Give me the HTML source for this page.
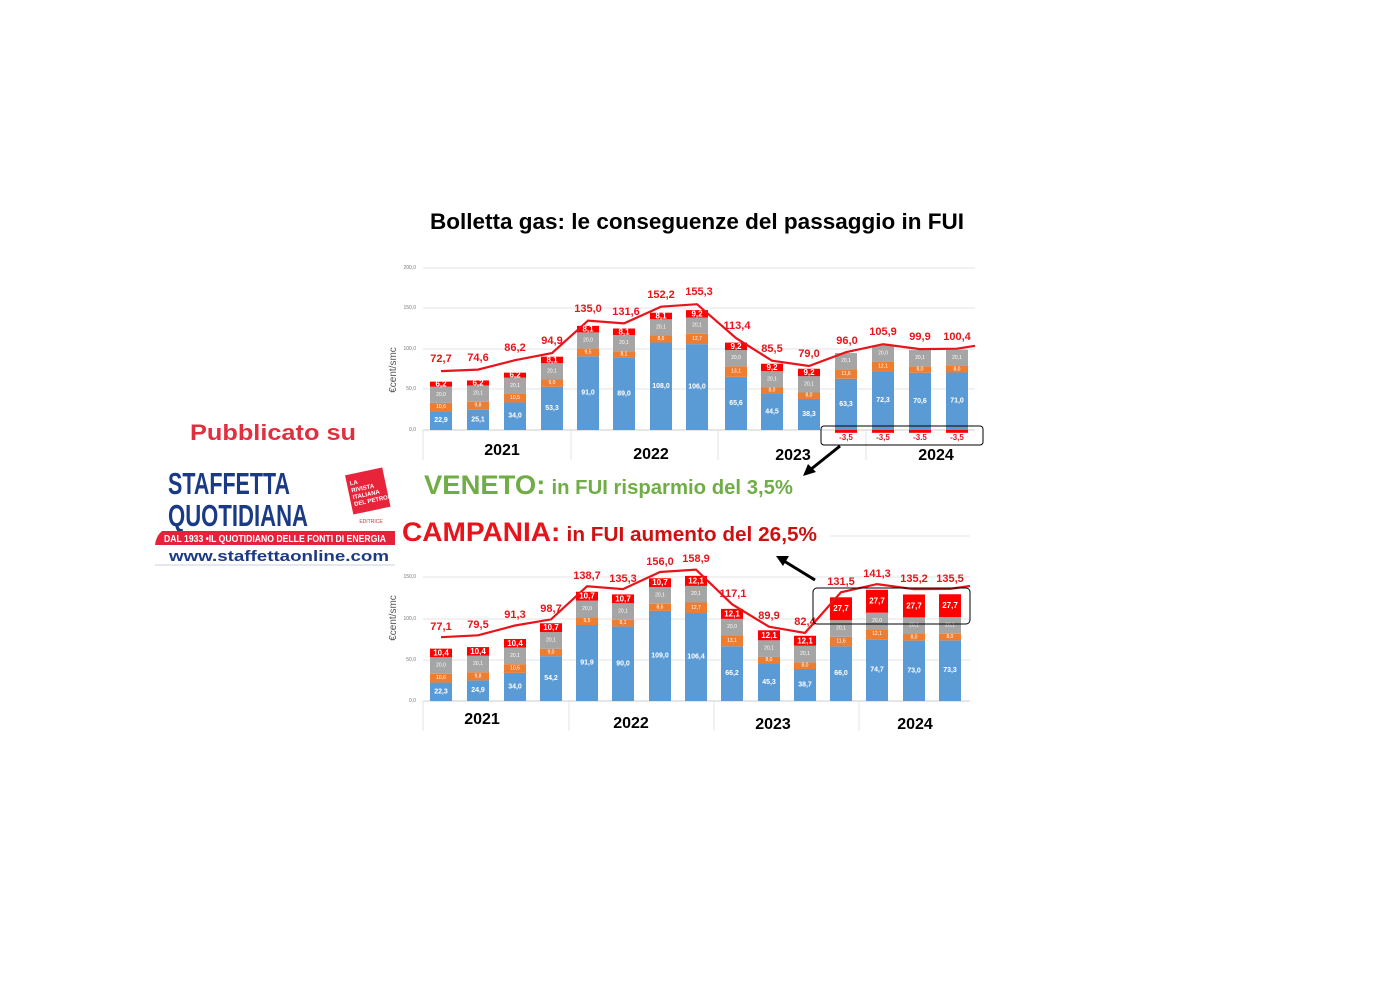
<!DOCTYPE html>
<html><head><meta charset="utf-8"><style>
html,body{margin:0;padding:0;background:#fff;width:1400px;height:1002px;overflow:hidden}
svg{display:block}
text{font-family:"Liberation Sans",sans-serif}
.t{font-size:7px;fill:#fff;font-weight:bold;text-anchor:middle;dominant-baseline:central}
.s{font-size:5px;fill:#fff;text-anchor:middle;dominant-baseline:central}
.r{font-size:8px;fill:#fff;font-weight:bold;text-anchor:middle;dominant-baseline:central}
.tot{font-size:11px;fill:#e8141b;font-weight:bold;text-anchor:middle}
.ax{font-size:5px;fill:#777;text-anchor:end;dominant-baseline:central}
.yr{font-size:16px;font-weight:bold;fill:#000;text-anchor:middle}
</style></head><body>
<svg width="1400" height="1002" viewBox="0 0 1400 1002">
<text x="697" y="229" font-size="22" font-weight="bold" text-anchor="middle" textLength="534" lengthAdjust="spacingAndGlyphs">Bolletta gas: le conseguenze del passaggio in FUI</text>

<!-- TOP CHART -->
<g stroke="#e3e3e3" stroke-width="1">
<line x1="423" y1="268" x2="975" y2="268"/><line x1="423" y1="308" x2="975" y2="308"/><line x1="423" y1="349" x2="975" y2="349"/><line x1="423" y1="389" x2="975" y2="389"/>
<line x1="423" y1="430" x2="975" y2="430" stroke="#ccc"/>
<line x1="571" y1="430" x2="571" y2="460"/><line x1="718" y1="430" x2="718" y2="460"/><line x1="866" y1="430" x2="866" y2="460"/><line x1="423" y1="430" x2="423" y2="460"/>
</g>
<text class="ax" x="416" y="268">200,0</text><text class="ax" x="416" y="308">150,0</text><text class="ax" x="416" y="349">100,0</text><text class="ax" x="416" y="389">50,0</text><text class="ax" x="416" y="430">0,0</text>
<text x="396" y="370" font-size="10" fill="#555" text-anchor="middle" transform="rotate(-90 396 370)">€cent/smc</text>
<g transform="translate(0,430) scale(1,-0.81)">
<g fill="#5b9bd5">
<rect x="430" y="0" width="22" height="22.9"/><rect x="467" y="0" width="22" height="25.1"/><rect x="504" y="0" width="22" height="34"/><rect x="541" y="0" width="22" height="53.3"/>
<rect x="577" y="0" width="22" height="91"/><rect x="613" y="0" width="22" height="89"/><rect x="650" y="0" width="22" height="108"/><rect x="686" y="0" width="22" height="106"/>
<rect x="725" y="0" width="22" height="65.6"/><rect x="761" y="0" width="22" height="44.5"/><rect x="798" y="0" width="22" height="38.3"/>
<rect x="835" y="0" width="22" height="63.3"/><rect x="872" y="0" width="22" height="72.3"/><rect x="909" y="0" width="22" height="70.6"/><rect x="946" y="0" width="22" height="71"/>
</g>
<g fill="#ed7d31">
<rect x="430" y="22.9" width="22" height="10.6"/><rect x="467" y="25.1" width="22" height="9.8"/><rect x="504" y="34" width="22" height="10.5"/><rect x="541" y="53.3" width="22" height="9"/>
<rect x="577" y="91" width="22" height="9.5"/><rect x="613" y="89" width="22" height="8.1"/><rect x="650" y="108" width="22" height="8.6"/><rect x="686" y="106" width="22" height="12.7"/>
<rect x="725" y="65.6" width="22" height="13.1"/><rect x="761" y="44.5" width="22" height="8"/><rect x="798" y="38.3" width="22" height="8"/>
<rect x="835" y="63.3" width="22" height="11.6"/><rect x="872" y="72.3" width="22" height="12.1"/><rect x="909" y="70.6" width="22" height="8"/><rect x="946" y="71" width="22" height="8"/>
</g>
<g fill="#a5a5a5">
<rect x="430" y="33.5" width="22" height="20"/><rect x="467" y="34.9" width="22" height="20.1"/><rect x="504" y="44.5" width="22" height="20.1"/><rect x="541" y="62.3" width="22" height="20.1"/>
<rect x="577" y="100.5" width="22" height="20"/><rect x="613" y="97.1" width="22" height="20.1"/><rect x="650" y="116.6" width="22" height="20.1"/><rect x="686" y="118.7" width="22" height="20.1"/>
<rect x="725" y="78.7" width="22" height="20"/><rect x="761" y="52.5" width="22" height="20.1"/><rect x="798" y="46.3" width="22" height="20.1"/>
<rect x="835" y="74.9" width="22" height="20.1"/><rect x="872" y="84.4" width="22" height="20"/><rect x="909" y="78.6" width="22" height="20.1"/><rect x="946" y="79" width="22" height="20.1"/>
</g>
<g fill="#f00">
<rect x="430" y="53.5" width="22" height="6.2"/><rect x="467" y="55" width="22" height="6.2"/><rect x="504" y="64.6" width="22" height="6.2"/><rect x="541" y="82.4" width="22" height="8.1"/>
<rect x="577" y="120.5" width="22" height="8.1"/><rect x="613" y="117.2" width="22" height="8.1"/><rect x="650" y="136.7" width="22" height="8.1"/><rect x="686" y="138.8" width="22" height="9.2"/>
<rect x="725" y="98.7" width="22" height="9.2"/><rect x="761" y="72.6" width="22" height="9.2"/><rect x="798" y="66.4" width="22" height="9.2"/>
<rect x="835" y="-3.5" width="22" height="3.5"/><rect x="872" y="-3.5" width="22" height="3.5"/><rect x="909" y="-3.5" width="22" height="3.5"/><rect x="946" y="-3.5" width="22" height="3.5"/>
</g>
</g>
<polyline fill="none" stroke="#e8141b" stroke-width="2.2" points="441,371.1 478,369.6 515,360.2 552,353.1 588,320.6 624,323.4 661,306.7 697,304.2 736,338.1 772,360.7 809,366 846,352.2 883,344.2 920,349.1 957,348.7 975,345.8"/>
<g>
<text class="tot" x="441" y="362">72,7</text><text class="tot" x="478" y="361">74,6</text><text class="tot" x="515" y="351">86,2</text><text class="tot" x="552" y="344">94,9</text>
<text class="tot" x="588" y="312">135,0</text><text class="tot" x="626" y="315">131,6</text><text class="tot" x="661" y="298">152,2</text><text class="tot" x="699" y="295">155,3</text>
<text class="tot" x="737" y="329">113,4</text><text class="tot" x="772" y="352">85,5</text><text class="tot" x="809" y="357">79,0</text>
<text class="tot" x="847" y="344">96,0</text><text class="tot" x="883" y="335">105,9</text><text class="tot" x="920" y="340">99,9</text><text class="tot" x="957" y="340">100,4</text>
</g>
<g>
<text class="t" x="441" y="420.7">22,9</text><text class="s" x="441" y="407.2">10,6</text><text class="s" x="441" y="394.8">20,0</text><text class="r" x="441" y="384.2">6,2</text>
<text class="t" x="478" y="419.8">25,1</text><text class="s" x="478" y="405.7">9,8</text><text class="s" x="478" y="393.6">20,1</text><text class="r" x="478" y="383">6,2</text>
<text class="t" x="515" y="416.2">34,0</text><text class="s" x="515" y="398.2">10,5</text><text class="s" x="515" y="385.8">20,1</text><text class="r" x="515" y="375.2">6,2</text>
<text class="t" x="552" y="408.4">53,3</text><text class="s" x="552" y="383.2">9,0</text><text class="s" x="552" y="371.4">20,1</text><text class="r" x="552" y="360">8,1</text>
<text class="t" x="588" y="393.1">91,0</text><text class="s" x="588" y="352.4">9,5</text><text class="s" x="588" y="340.5">20,0</text><text class="r" x="588" y="329.1">8,1</text>
<text class="t" x="624" y="394">89,0</text><text class="s" x="624" y="354.6">8,1</text><text class="s" x="624" y="343.2">20,1</text><text class="r" x="624" y="331.8">8,1</text>
<text class="t" x="661" y="386.3">108,0</text><text class="s" x="661" y="339">8,6</text><text class="s" x="661" y="327.4">20,1</text><text class="r" x="661" y="316">8,1</text>
<text class="t" x="697" y="387.1">106,0</text><text class="s" x="697" y="339">12,7</text><text class="s" x="697" y="325.7">20,1</text><text class="r" x="697" y="313.9">9,2</text>
<text class="t" x="736" y="403.4">65,6</text><text class="s" x="736" y="371.6">13,1</text><text class="s" x="736" y="358.2">20,0</text><text class="r" x="736" y="346.3">9,2</text>
<text class="t" x="772" y="412">44,5</text><text class="s" x="772" y="390.7">8,0</text><text class="s" x="772" y="379.3">20,1</text><text class="r" x="772" y="367.5">9,2</text>
<text class="t" x="809" y="414.5">38,3</text><text class="s" x="809" y="395.7">8,0</text><text class="s" x="809" y="384.4">20,1</text><text class="r" x="809" y="372.5">9,2</text>
<text class="t" x="846" y="404.4">63,3</text><text class="s" x="846" y="374">11,6</text><text class="s" x="846" y="361.2">20,1</text>
<text class="t" x="883" y="400.7">72,3</text><text class="s" x="883" y="366.5">12,1</text><text class="s" x="883" y="353.5">20,0</text>
<text class="t" x="920" y="401.4">70,6</text><text class="s" x="920" y="369.6">8,0</text><text class="s" x="920" y="358.2">20,1</text>
<text class="t" x="957" y="401.2">71,0</text><text class="s" x="957" y="369.3">8,0</text><text class="s" x="957" y="357.9">20,1</text>
</g>
<g font-size="8" font-weight="bold" fill="#e8141b" text-anchor="middle">
<text x="846" y="440">-3,5</text><text x="883" y="440">-3,5</text><text x="920" y="440">-3.5</text><text x="957" y="440">-3,5</text>
</g>
<text class="yr" x="502" y="455">2021</text><text class="yr" x="651" y="459">2022</text><text class="yr" x="793" y="460">2023</text><text class="yr" x="936" y="460">2024</text>
<rect x="821" y="426" width="162" height="19" rx="3" fill="none" stroke="#000" stroke-width="1"/>
<line x1="840" y1="446" x2="810" y2="470" stroke="#000" stroke-width="3"/>
<polygon points="803,476 808,464 816,472" fill="#000"/>

<text x="424" y="494" font-size="27" fill="#70ad47" font-weight="bold" textLength="369" lengthAdjust="spacingAndGlyphs">VENETO:<tspan font-size="20" dx="6">in FUI risparmio del 3,5%</tspan></text>
<text x="402" y="541" font-size="27" fill="#e8141b" font-weight="bold" textLength="415" lengthAdjust="spacingAndGlyphs">CAMPANIA:<tspan font-size="20" dx="6" fill="#d01010">in FUI aumento del 26,5%</tspan></text>
<line x1="830" y1="536" x2="970" y2="536" stroke="#e6e6e6"/>

<!-- BOTTOM CHART -->
<g stroke="#e3e3e3" stroke-width="1">
<line x1="423" y1="577" x2="970" y2="577"/><line x1="423" y1="619" x2="970" y2="619"/><line x1="423" y1="660" x2="970" y2="660"/>
<line x1="423" y1="701" x2="970" y2="701" stroke="#ccc"/>
<line x1="569" y1="701" x2="569" y2="731"/><line x1="714" y1="701" x2="714" y2="731"/><line x1="859" y1="701" x2="859" y2="731"/><line x1="423" y1="701" x2="423" y2="731"/>
</g>
<text class="ax" x="416" y="577">150,0</text><text class="ax" x="416" y="619">100,0</text><text class="ax" x="416" y="660">50,0</text><text class="ax" x="416" y="701">0,0</text>
<text x="396" y="618" font-size="10" fill="#555" text-anchor="middle" transform="rotate(-90 396 618)">€cent/smc</text>
<g transform="translate(0,701) scale(1,-0.827)">
<g fill="#5b9bd5">
<rect x="430" y="0" width="22" height="22.3"/><rect x="467" y="0" width="22" height="24.9"/><rect x="504" y="0" width="22" height="34"/><rect x="540" y="0" width="22" height="54.2"/>
<rect x="576" y="0" width="22" height="91.9"/><rect x="612" y="0" width="22" height="90"/><rect x="649" y="0" width="22" height="109"/><rect x="685" y="0" width="22" height="106.4"/>
<rect x="721" y="0" width="22" height="66.2"/><rect x="758" y="0" width="22" height="45.3"/><rect x="794" y="0" width="22" height="38.7"/>
<rect x="830" y="0" width="22" height="66"/><rect x="866" y="0" width="22" height="74.7"/><rect x="903" y="0" width="22" height="73"/><rect x="939" y="0" width="22" height="73.3"/>
</g>
<g fill="#ed7d31">
<rect x="430" y="22.3" width="22" height="10.6"/><rect x="467" y="24.9" width="22" height="9.8"/><rect x="504" y="34" width="22" height="10.5"/><rect x="540" y="54.2" width="22" height="9"/>
<rect x="576" y="91.9" width="22" height="9.5"/><rect x="612" y="90" width="22" height="8.1"/><rect x="649" y="109" width="22" height="8.6"/><rect x="685" y="106.4" width="22" height="12.7"/>
<rect x="721" y="66.2" width="22" height="13.1"/><rect x="758" y="45.3" width="22" height="8"/><rect x="794" y="38.7" width="22" height="8"/>
<rect x="830" y="66" width="22" height="11.6"/><rect x="866" y="74.7" width="22" height="12.1"/><rect x="903" y="73" width="22" height="8"/><rect x="939" y="73.3" width="22" height="8"/>
</g>
<g fill="#a5a5a5">
<rect x="430" y="32.9" width="22" height="20"/><rect x="467" y="34.7" width="22" height="20.1"/><rect x="504" y="44.5" width="22" height="20.1"/><rect x="540" y="63.2" width="22" height="20.1"/>
<rect x="576" y="101.4" width="22" height="20"/><rect x="612" y="98.1" width="22" height="20.1"/><rect x="649" y="117.6" width="22" height="20.1"/><rect x="685" y="119.1" width="22" height="20.1"/>
<rect x="721" y="79.3" width="22" height="20"/><rect x="758" y="53.3" width="22" height="20.1"/><rect x="794" y="46.7" width="22" height="20.1"/>
<rect x="830" y="77.6" width="22" height="20.1"/><rect x="866" y="86.8" width="22" height="20"/><rect x="903" y="81" width="22" height="20.1"/><rect x="939" y="81.3" width="22" height="20.1"/>
</g>
<g fill="#f00">
<rect x="430" y="52.9" width="22" height="10.4"/><rect x="467" y="54.8" width="22" height="10.4"/><rect x="504" y="64.6" width="22" height="10.4"/><rect x="540" y="83.3" width="22" height="10.7"/>
<rect x="576" y="121.4" width="22" height="10.7"/><rect x="612" y="118.2" width="22" height="10.7"/><rect x="649" y="137.7" width="22" height="10.7"/><rect x="685" y="139.2" width="22" height="12.1"/>
<rect x="721" y="99.3" width="22" height="12.1"/><rect x="758" y="73.4" width="22" height="12.1"/><rect x="794" y="66.8" width="22" height="12.1"/>
<rect x="830" y="97.7" width="22" height="27.7"/><rect x="866" y="106.8" width="22" height="27.7"/><rect x="903" y="101.1" width="22" height="27.7"/><rect x="939" y="101.4" width="22" height="27.7"/>
</g>
</g>
<polyline fill="none" stroke="#e8141b" stroke-width="2.2" points="441,637.2 478,635.3 515,625.5 551,619.4 587,586.3 623,589.1 660,572 696,569.6 732,604.2 769,626.7 805,632.9 841,592.3 877,584.1 914,589.2 950,588.9 970,586"/>
<g>
<text class="tot" x="441" y="630">77,1</text><text class="tot" x="478" y="628">79,5</text><text class="tot" x="515" y="618">91,3</text><text class="tot" x="551" y="612">98,7</text>
<text class="tot" x="587" y="579">138,7</text><text class="tot" x="623" y="582">135,3</text><text class="tot" x="660" y="565">156,0</text><text class="tot" x="696" y="562">158,9</text>
<text class="tot" x="733" y="597">117,1</text><text class="tot" x="769" y="619">89,9</text><text class="tot" x="805" y="625">82,4</text>
<text class="tot" x="841" y="585">131,5</text><text class="tot" x="877" y="577">141,3</text><text class="tot" x="914" y="582">135,2</text><text class="tot" x="950" y="582">135,5</text>
</g>
<g>
<text class="t" x="441" y="691.8">22,3</text><text class="s" x="441" y="678.2">10,6</text><text class="s" x="441" y="665.5">20,0</text><text class="r" x="441" y="653">10,4</text>
<text class="t" x="478" y="690.7">24,9</text><text class="s" x="478" y="676.4">9,8</text><text class="s" x="478" y="664">20,1</text><text class="r" x="478" y="651.4">10,4</text>
<text class="t" x="515" y="686.9">34,0</text><text class="s" x="515" y="668.5">10,5</text><text class="s" x="515" y="655.9">20,1</text><text class="r" x="515" y="643.3">10,4</text>
<text class="t" x="551" y="678.6">54,2</text><text class="s" x="551" y="652.5">9,0</text><text class="s" x="551" y="640.4">20,1</text><text class="r" x="551" y="627.7">10,7</text>
<text class="t" x="587" y="663">91,9</text><text class="s" x="587" y="621.1">9,5</text><text class="s" x="587" y="608.9">20,0</text><text class="r" x="587" y="596.2">10,7</text>
<text class="t" x="623" y="663.8">90,0</text><text class="s" x="623" y="623.2">8,1</text><text class="s" x="623" y="611.6">20,1</text><text class="r" x="623" y="598.8">10,7</text>
<text class="t" x="660" y="655.9">109,0</text><text class="s" x="660" y="607.3">8,6</text><text class="s" x="660" y="595.4">20,1</text><text class="r" x="660" y="582.7">10,7</text>
<text class="t" x="696" y="657">106,4</text><text class="s" x="696" y="607.8">12,7</text><text class="s" x="696" y="594.2">20,1</text><text class="r" x="696" y="580.9">12,1</text>
<text class="t" x="732" y="673.6">66,2</text><text class="s" x="732" y="640.8">13,1</text><text class="s" x="732" y="627.1">20,0</text><text class="r" x="732" y="613.9">12,1</text>
<text class="t" x="769" y="682.3">45,3</text><text class="s" x="769" y="660.2">8,0</text><text class="s" x="769" y="648.6">20,1</text><text class="r" x="769" y="635.3">12,1</text>
<text class="t" x="805" y="685">38,7</text><text class="s" x="805" y="665.7">8,0</text><text class="s" x="805" y="654.1">20,1</text><text class="r" x="805" y="640.8">12,1</text>
<text class="t" x="841" y="673.7">66,0</text><text class="s" x="841" y="641.6">11,6</text><text class="s" x="841" y="628.5">20,1</text><text class="r" x="841" y="608.7">27,7</text>
<text class="t" x="877" y="670.1">74,7</text><text class="s" x="877" y="634.2">12,1</text><text class="s" x="877" y="620.9">20,0</text><text class="r" x="877" y="601.2">27,7</text>
<text class="t" x="914" y="670.8">73,0</text><text class="s" x="914" y="637.3">8,0</text><text class="s" x="914" y="625.7">20,1</text><text class="r" x="914" y="605.9">27,7</text>
<text class="t" x="950" y="670.7">73,3</text><text class="s" x="950" y="637.1">8,0</text><text class="s" x="950" y="625.5">20,1</text><text class="r" x="950" y="605.7">27,7</text>
</g>
<text class="yr" x="482" y="724">2021</text><text class="yr" x="631" y="728">2022</text><text class="yr" x="773" y="729">2023</text><text class="yr" x="915" y="729">2024</text>
<rect x="813" y="588" width="157" height="36" rx="4" fill="none" stroke="#000" stroke-width="1"/>
<line x1="815" y1="580" x2="784" y2="561" stroke="#000" stroke-width="3"/>
<polygon points="776,556 789,556 783,566" fill="#000"/>

<!-- LOGO -->
<text x="273" y="440" font-size="22" font-weight="bold" fill="#e0303f" text-anchor="middle" textLength="166" lengthAdjust="spacingAndGlyphs">Pubblicato su</text>
<text x="168" y="494" font-size="31" font-weight="bold" fill="#1b3a86" textLength="122" lengthAdjust="spacingAndGlyphs">STAFFETTA</text>
<text x="168" y="526" font-size="31" font-weight="bold" fill="#1b3a86" textLength="140" lengthAdjust="spacingAndGlyphs">QUOTIDIANA</text>
<defs><clipPath id="em"><rect x="349" y="471" width="38" height="40"/></clipPath></defs>
<g transform="rotate(-12 368 492)">
<rect x="349" y="471" width="38" height="40" fill="#e8243b"/>
<g clip-path="url(#em)">
<text x="352" y="482" font-size="6" fill="#fff" font-weight="bold">LA</text>
<text x="352" y="489" font-size="6" fill="#fff" font-weight="bold">RIVISTA</text>
<text x="352" y="496" font-size="6" fill="#fff" font-weight="bold">ITALIANA</text>
<text x="352" y="503" font-size="6" fill="#fff" font-weight="bold">DEL PETROLIO</text>
</g>
</g>
<text x="371" y="523" font-size="5" fill="#c33" text-anchor="middle">EDITRICE</text>
<path d="M162,531 L395,531 L395,545 L155,545 Q156,536 162,531 Z" fill="#e4233a"/>
<text x="275" y="542" font-size="10" font-weight="bold" fill="#fff" text-anchor="middle" textLength="222" lengthAdjust="spacingAndGlyphs">DAL 1933 •IL QUOTIDIANO DELLE FONTI DI ENERGIA</text>
<text x="279" y="561" font-size="15" font-weight="bold" fill="#1b3a86" text-anchor="middle" textLength="220" lengthAdjust="spacingAndGlyphs">www.staffettaonline.com</text>
<line x1="155" y1="565" x2="395" y2="565" stroke="#ccd" stroke-width="1"/>
</svg>
</body></html>
